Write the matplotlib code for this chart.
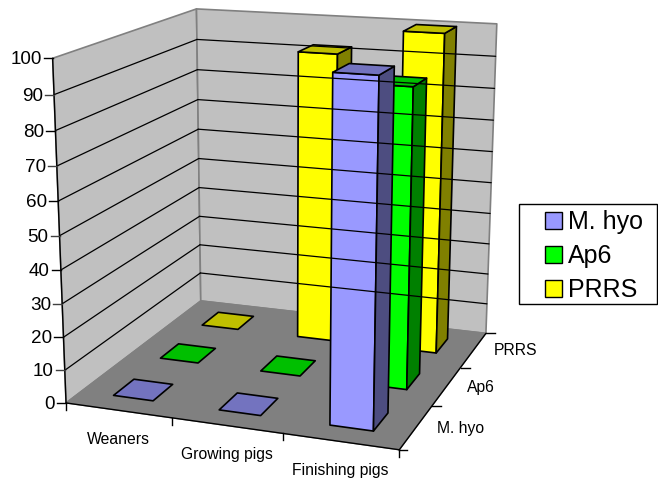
import numpy as np
import matplotlib
matplotlib.use("Agg")
import matplotlib.pyplot as plt
from matplotlib.patches import Polygon, Rectangle

plt.rcParams['font.family'] = ['Liberation Sans', 'DejaVu Sans']

#%% Data

stages = ["Weaners", "Growing pigs", "Finishing pigs"]
series = ["M. hyo", "Ap6", "PRRS"]
m_hyo = [0, 0, 99]
ap6 = [0, 0, 90]
prrs = [0, 92, 100]
z_ticks = [0, 10, 20, 30, 40, 50, 60, 70, 80, 90, 100]

# front / top / side colours per series
colours = {"M. hyo": ("#9999FF", "#7373BF", "#4D4D80"),
           "Ap6": ("#00FF00", "#00BF00", "#008000"),
           "PRRS": ("#FFFF00", "#BFBF00", "#808000")}

#%% Camera, fitted to the corners of the chart box (x stage, y series, z value -> pixels)

box = [(0, 0, 0), (3, 0, 0), (0, 3, 0), (3, 3, 0), (0, 0, 100), (0, 3, 100), (3, 3, 100)]
pix = [(66, 404), (399, 451), (201, 302), (486, 334), (53, 59), (196, 10), (497, 25)]

rows = []
rhs = []
for (x, y, z), (u, v) in zip(box, pix):
    rows.append([x, y, z, 1, 0, 0, 0, 0, -u*x, -u*y, -u*z])
    rows.append([0, 0, 0, 0, x, y, z, 1, -v*x, -v*y, -v*z])
    rhs += [u, v]
cam = np.linalg.lstsq(np.array(rows, float), np.array(rhs, float), rcond=None)[0]
cam = np.append(cam, 1).reshape(3, 4)


def proj(x, y, z):
    u, v, w = cam @ np.array([x, y, z, 1.0])
    return u/w, v/w


#%% Figure

fig = plt.figure(figsize=(6.58, 4.81), dpi=100)
ax = fig.add_axes([0, 0, 1, 1])
ax.set_xlim(0, 658)
ax.set_ylim(481, 0)
ax.axis("off")


def face(pts, color, edge="black", lw=1.2):
    ax.add_patch(Polygon([proj(*p) for p in pts], closed=True, facecolor=color,
                         edgecolor=edge, linewidth=lw, joinstyle="round"))


def line(p, q, color="black", lw=1.0):
    a, b = proj(*p), proj(*q)
    ax.plot([a[0], b[0]], [a[1], b[1]], color=color, lw=lw, solid_capstyle="round")


# walls and floor
face([(0, 0, 0), (0, 3, 0), (0, 3, 100), (0, 0, 100)], "#C0C0C0", "#808080", 1.2)
face([(0, 3, 0), (3, 3, 0), (3, 3, 100), (0, 3, 100)], "#C0C0C0", "#808080", 1.2)
face([(0, 0, 0), (3, 0, 0), (3, 3, 0), (0, 3, 0)], "#808080", "#808080", 1.0)

# gridlines
for z in z_ticks[1:-1]:
    line((0, 0, z), (0, 3, z), lw=0.9)
    line((0, 3, z), (3, 3, z), lw=0.9)

# axes lines and ticks
line((0, 0, 0), (0, 0, 100), lw=1.0)
line((0, 0, 0), (3, 0, 0), lw=1.0)
line((3, 0, 0), (3, 3, 0), lw=1.0)
for z in z_ticks:
    u, v = proj(0, 0, z)
    ax.plot([u-9, u], [v, v], color="black" if z % 20 == 0 else "#404040", lw=1.0)
    ax.text(u-11, v+0.5, str(z), ha="right", va="center", fontsize=13.6, color="black")
for i in range(4):
    u, v = proj(i, 0, 0)
    ax.plot([u, u], [v, v+7], color="black", lw=1.0)
for i in range(1, 4):
    u, v = proj(3, i, 0)
    ax.plot([u, u+9], [v, v], color="black", lw=1.0)
u, v = proj(3, 0, 0)
ax.plot([u, u+8], [v, v], color="black", lw=1.0)

# category labels
for i, s in enumerate(stages):
    u, v = proj(i+0.5, 0, 0)
    ax.text(u, v+28, s, ha="center", va="center", fontsize=11.3, color="black")
for j, s in enumerate(series):
    u, v = proj(3, j+0.5, 0)
    ax.text(u+20.5, v, s, ha="left", va="center", fontsize=11.3, color="black")

#%% Bars, back row first so the front ones paint over them

x_lo, x_hi = 0.31, 0.69
y_lo, y_hi = 0.30, 0.72
values = [m_hyo, ap6, prrs]
for j in range(2, -1, -1):
    front, top, side = colours[series[j]]
    for i in range(3):
        h = values[j][i]
        x0, x1 = i+x_lo, i+x_hi
        y0, y1 = j+y_lo, j+y_hi
        if h > 0:
            face([(x0, y0, 0), (x1, y0, 0), (x1, y0, h), (x0, y0, h)], front)
            face([(x1, y0, 0), (x1, y1, 0), (x1, y1, h), (x1, y0, h)], side)
        face([(x0, y0, h), (x1, y0, h), (x1, y1, h), (x0, y1, h)], top)

#%% Legend box

ax.add_patch(Rectangle((518.5, 204.5), 138, 100, facecolor="white", edgecolor="black", lw=1.0))
for k, s in enumerate(series):
    yc = 221 + k*34
    ax.add_patch(Rectangle((544.5, yc-8), 17, 17, facecolor=colours[s][0], edgecolor="black", lw=1.0))
    ax.text(568, yc+1, s, ha="left", va="center", fontsize=18, color="black")

fig.savefig("out.png", dpi=100)
